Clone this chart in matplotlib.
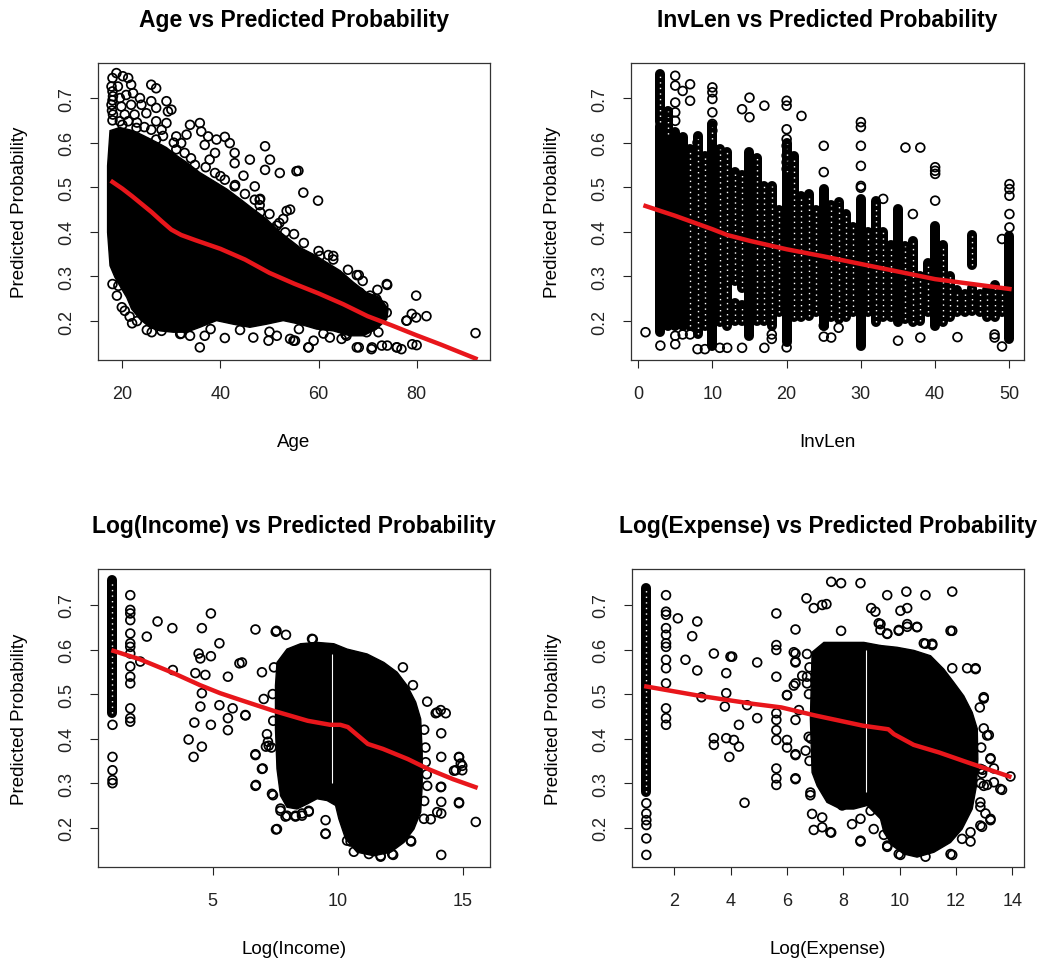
import matplotlib
matplotlib.use("Agg")
import matplotlib.pyplot as plt

plt.rcParams["font.family"] = ["Liberation Sans", "DejaVu Sans"]

# ---------------- Age panel ----------------
age_line_x = [18, 20, 22, 24, 26, 28, 30, 32, 35, 40, 45, 50, 55, 60, 65, 70, 75, 80, 85, 92]
age_line_y = [0.512, 0.497, 0.480, 0.462, 0.444, 0.424, 0.405, 0.393, 0.381, 0.362, 0.338, 0.308,
              0.284, 0.262, 0.238, 0.211, 0.190, 0.168, 0.147, 0.116]
# outline of the saturated point cloud
age_blob_x = [17.5, 19.5, 22.2, 24.3, 27.0, 29.0, 31.1, 33.1, 35.8, 38.5, 41.3, 44.0, 46.7, 49.4,
              51.5, 53.5, 56.2, 58.9, 61.6, 64.4, 67.1, 69.8, 72.5, 74.2, 73.9, 71.8, 69.1, 66.4,
              63.0, 59.6, 56.2, 52.8, 49.4, 46.0, 42.6, 39.2, 35.8, 33.1, 30.4, 27.7, 25.6, 23.6,
              21.9, 20.9, 19.5, 18.5, 17.5, 17.0, 17.0]
age_blob_y = [0.627, 0.634, 0.627, 0.616, 0.601, 0.589, 0.571, 0.556, 0.533, 0.515, 0.496, 0.474,
              0.451, 0.429, 0.406, 0.388, 0.365, 0.350, 0.332, 0.313, 0.287, 0.264, 0.253, 0.227,
              0.204, 0.182, 0.167, 0.167, 0.178, 0.182, 0.193, 0.201, 0.193, 0.186, 0.193, 0.201,
              0.186, 0.175, 0.175, 0.178, 0.186, 0.204, 0.227, 0.253, 0.279, 0.298, 0.324, 0.399,
              0.548]
age_pts_x = [18.8, 20.1, 21.2, 19.1, 17.8, 21.8, 25.9, 26.9, 18.1, 19.5, 20.8, 22.2, 23.6, 25.9,
             29.0, 17.8, 19.8, 21.8, 23.9, 18.1, 20.5, 22.5, 24.9, 26.9, 29.3, 30.0, 19.5, 21.2,
             22.9, 26.9, 29.0, 28.0, 25.9, 33.8, 35.8, 36.1, 31.0, 33.1, 37.5, 39.2, 40.9, 41.9,
             36.8, 38.9, 42.9, 37.8, 42.9, 46.0, 49.1, 50.1, 49.1, 52.1, 55.5, 26.9, 25.2, 32.0,
             32.7, 34.8, 38.9, 40.9, 42.9, 47.0, 47.0, 48.0, 54.2, 18.0, 18.0, 18.0, 17.9, 18.0,
             20.0, 23.0, 24.5, 28.3, 30.5,
             55.9, 56.9, 59.9, 48.1, 48.1, 46.7, 44.7, 53.5, 52.8, 51.5, 50.8, 49.4, 53.2,
             31.0, 34.0, 37.0, 40.0, 43.0, 45.0, 48.0, 50.0, 52.0, 55.0, 57.0, 60.0, 63.0, 66.0,
             69.0, 72.0,
             62.0, 68.2, 74.0, 79.9, 78.0, 79.9, 82.0, 92.0, 68.2, 70.9, 74.0, 76.0, 79.1, 80.0,
             58.0, 55.2, 59.0, 60.3, 63.0, 67.8, 73.9, 68.4, 70.5, 71.8, 73.2, 73.9, 67.8, 69.1,
             71.2, 72.2, 69.8, 67.8, 70.8, 72.9, 75.9, 76.9, 77.9, 79.0,
             26.0, 35.8, 36.8, 40.9, 33.8, 31.8, 46.7, 49.8, 51.5, 54.2, 54.9, 57.9, 62.3,
             64.7, 65.7, 22.0, 25.0, 28.0, 32.0, 38.0, 44.0, 50.0, 56.0, 61.0, 65.5,
             18.0, 19.2, 18.9, 19.9, 20.5, 21.5, 23.0]
age_pts_y = [0.756, 0.749, 0.745, 0.726, 0.726, 0.730, 0.730, 0.722, 0.704, 0.700, 0.707, 0.711,
             0.700, 0.693, 0.693, 0.685, 0.681, 0.685, 0.685, 0.663, 0.663, 0.663, 0.666, 0.678,
             0.670, 0.674, 0.648, 0.648, 0.633, 0.648, 0.644, 0.629, 0.629, 0.640, 0.644, 0.625,
             0.614, 0.618, 0.614, 0.607, 0.613, 0.599, 0.595, 0.577, 0.577, 0.562, 0.554, 0.562,
             0.592, 0.562, 0.539, 0.532, 0.536, 0.607, 0.599, 0.599, 0.577, 0.550, 0.532, 0.517,
             0.502, 0.502, 0.472, 0.472, 0.450, 0.745, 0.715, 0.695, 0.672, 0.650,
             0.640, 0.645, 0.635, 0.615, 0.600,
             0.537, 0.488, 0.470, 0.474, 0.444, 0.436, 0.526, 0.447, 0.429, 0.414, 0.406, 0.399,
             0.399,
             0.585, 0.565, 0.545, 0.525, 0.505, 0.485, 0.460, 0.440, 0.420, 0.395, 0.375, 0.357,
             0.338, 0.315, 0.290, 0.270,
             0.348, 0.303, 0.281, 0.257, 0.201, 0.208, 0.211, 0.173, 0.141, 0.141, 0.145, 0.141,
             0.148, 0.146, 0.141, 0.156, 0.156, 0.346, 0.346, 0.303, 0.283, 0.264, 0.257, 0.249,
             0.234, 0.219, 0.219, 0.208, 0.197, 0.175, 0.175, 0.141, 0.137, 0.145, 0.141, 0.137,
             0.201, 0.216,
             0.175, 0.141, 0.167, 0.162, 0.167, 0.171, 0.163, 0.156, 0.167, 0.160, 0.156, 0.141,
             0.163, 0.160, 0.167, 0.195, 0.180, 0.178, 0.172, 0.182, 0.180, 0.176, 0.182, 0.172,
             0.170,
             0.283, 0.279, 0.257, 0.231, 0.223, 0.210, 0.200]

# ---------------- InvLen panel ----------------
inv_line_x = [1, 3, 5, 8, 10, 12, 15, 20, 25, 30, 35, 40, 45, 50]
inv_line_y = [0.458, 0.447, 0.436, 0.418, 0.406, 0.393, 0.380, 0.361, 0.345, 0.328, 0.311, 0.294,
              0.283, 0.272]
inv_dense_x = [3, 4, 5, 6, 10, 15, 20, 25, 30, 35, 40, 50]
inv_dense_lo = [0.175, 0.19, 0.19, 0.19, 0.145, 0.167, 0.153, 0.19, 0.145, 0.198, 0.19, 0.16]
inv_dense_hi = [0.638, 0.62, 0.623, 0.612, 0.608, 0.579, 0.534, 0.496, 0.474, 0.451, 0.414, 0.391]
inv_semi_x = [3, 4, 7, 8, 9, 10, 11, 12, 13, 13, 14, 14, 16, 17, 18, 19, 20, 21, 22, 23, 24, 26,
              27, 28, 29, 31, 32, 33, 34, 36, 37, 38, 39, 41, 42, 43, 44, 45, 45, 46, 47, 48, 49]
inv_semi_lo = [0.646, 0.62, 0.19, 0.17, 0.19, 0.608, 0.198, 0.19, 0.29, 0.20, 0.275, 0.20, 0.20,
               0.20, 0.19, 0.22, 0.534, 0.21, 0.21, 0.212, 0.22, 0.21, 0.205, 0.21, 0.22, 0.22,
               0.198, 0.21, 0.21, 0.204, 0.198, 0.20, 0.22, 0.198, 0.21, 0.22, 0.22, 0.222, 0.325,
               0.22, 0.21, 0.21, 0.22]
inv_semi_hi = [0.755, 0.67, 0.586, 0.614, 0.57, 0.64, 0.586, 0.58, 0.534, 0.24, 0.528, 0.235,
               0.565, 0.503, 0.503, 0.45, 0.60, 0.571, 0.48, 0.485, 0.45, 0.46, 0.466, 0.44, 0.41,
               0.40, 0.47, 0.40, 0.37, 0.369, 0.38, 0.30, 0.33, 0.37, 0.30, 0.27, 0.26, 0.274,
               0.392, 0.26, 0.27, 0.28, 0.26]
inv_pts_x = [1, 3, 4, 4, 5, 5, 5, 5, 5, 5, 5, 6, 6, 7, 7, 7, 8, 8, 9, 10, 10, 10, 10, 10, 10,
             11, 12, 14, 14, 15, 15, 17, 17, 18, 18, 20, 20, 20, 20, 20, 20, 20, 20, 20, 22,
             25, 25, 25, 25, 26, 27, 30, 30, 30, 30, 30, 30, 33, 35, 36, 37, 38, 38, 40, 40, 40,
             40, 43, 48, 48, 49, 49, 50, 50, 50, 50, 50]
inv_pts_y = [0.175, 0.145, 0.669, 0.650, 0.750, 0.728, 0.690, 0.668, 0.649, 0.167, 0.148, 0.716,
             0.170, 0.731, 0.694, 0.170, 0.137, 0.600, 0.137, 0.724, 0.713, 0.698, 0.668, 0.642,
             0.627, 0.140, 0.140, 0.675, 0.140, 0.701, 0.657, 0.683, 0.140, 0.170, 0.160, 0.694,
             0.683, 0.630, 0.608, 0.593, 0.571, 0.556, 0.541, 0.141, 0.660, 0.593, 0.534, 0.190,
             0.165, 0.163, 0.185, 0.646, 0.635, 0.593, 0.548, 0.503, 0.499, 0.474, 0.156, 0.589,
             0.440, 0.589, 0.163, 0.545, 0.537, 0.530, 0.470, 0.164, 0.170, 0.163, 0.384, 0.143,
             0.507, 0.496, 0.481, 0.440, 0.410]

# ---------------- Log(Income) panel ----------------
inc_line_x = [1.04, 2.1, 3.4, 4.5, 5.3, 6.1, 7.4, 8.8, 9.7, 10.1, 10.4, 11.2, 11.8, 12.8, 13.6,
              14.6, 15.5]
inc_line_y = [0.597, 0.578, 0.548, 0.520, 0.502, 0.487, 0.463, 0.440, 0.431, 0.431, 0.426, 0.388,
              0.377, 0.354, 0.332, 0.309, 0.291]
inc_blob_x = [7.57, 7.97, 8.51, 9.17, 9.84, 10.37, 11.17, 11.84, 12.37, 12.77, 13.11, 13.31, 13.37,
              13.37, 13.31, 13.04, 12.64, 12.11, 11.44, 10.77, 10.31, 10.04, 9.91, 9.57, 9.17,
              8.77, 8.37, 7.97, 7.71, 7.57, 7.51, 7.51]
inc_blob_y = [0.571, 0.601, 0.613, 0.616, 0.613, 0.601, 0.590, 0.571, 0.549, 0.519, 0.482, 0.444,
              0.369, 0.294, 0.235, 0.197, 0.167, 0.145, 0.137, 0.145, 0.175, 0.220, 0.250, 0.261,
              0.265, 0.253, 0.242, 0.246, 0.272, 0.332, 0.422, 0.519]
inc_chain_x = [1.0]
inc_chain_lo = [0.457]
inc_chain_hi = [0.756]
inc_gap_x = [9.78]
inc_gap_lo = [0.30]
inc_gap_hi = [0.59]
inc_pts_x = [1.0, 1.0, 1.0, 1.0, 1.0,
             1.71, 1.71, 1.71, 1.71, 1.71, 1.71, 1.71, 1.71, 1.71, 1.71, 1.71, 1.71, 1.71, 1.71,
             2.11, 2.37, 2.80, 3.39, 3.41, 4.04, 4.24, 4.27, 4.31, 4.44, 4.51, 4.51, 4.57, 4.57,
             4.57, 4.71, 4.93, 4.93, 4.93, 5.27, 5.27, 5.61, 5.61, 5.61, 5.80, 6.07, 6.31, 6.71,
             6.71, 6.73, 7.00, 7.13, 7.21, 7.41, 7.52, 7.53, 7.71, 7.91, 7.93, 8.31, 8.57, 8.84,
             9.51, 9.51, 9.00,
             13.57, 13.91, 14.11, 14.31, 14.13, 14.13, 14.13, 14.13, 14.13, 14.13, 14.84, 14.91,
             14.97, 14.71, 14.84, 15.51, 12.93, 12.21, 11.71, 10.64, 10.51,
             6.17, 6.31, 6.71, 6.97, 6.71, 7.37, 7.57, 7.71, 7.97, 8.31, 8.57, 8.84, 9.51, 6.97,
             7.04, 7.17, 7.24, 13.97, 14.84, 14.97, 14.64, 14.84, 14.11, 13.97, 13.71, 13.51,
             13.57, 8.97, 11.71, 12.17, 11.24, 10.37, 12.91, 13.44, 7.55,
             7.45, 7.40, 7.42, 7.35, 13.45, 13.50, 13.45, 13.55, 12.60, 13.00]
inc_pts_y = [0.431, 0.359, 0.329, 0.307, 0.300,
             0.722, 0.689, 0.681, 0.666, 0.636, 0.614, 0.606, 0.591, 0.562, 0.539, 0.524, 0.468,
             0.446, 0.438,
             0.573, 0.629, 0.663, 0.648, 0.554, 0.398, 0.359, 0.436, 0.547, 0.591, 0.580, 0.472,
             0.648, 0.502, 0.382, 0.543, 0.681, 0.585, 0.431, 0.614, 0.475, 0.539, 0.446, 0.419,
             0.468, 0.569, 0.453, 0.645, 0.363, 0.296, 0.333, 0.382, 0.393, 0.273, 0.640, 0.196,
             0.243, 0.225, 0.633, 0.225, 0.232, 0.236, 0.217, 0.187, 0.623,
             0.483, 0.457, 0.464, 0.457, 0.412, 0.359, 0.292, 0.258, 0.232, 0.139, 0.359, 0.344,
             0.329, 0.329, 0.255, 0.213, 0.169, 0.139, 0.135, 0.146, 0.169,
             0.571, 0.452, 0.365, 0.332, 0.294, 0.276, 0.197, 0.238, 0.227, 0.227, 0.227, 0.238,
             0.186, 0.549, 0.489, 0.410, 0.384, 0.459, 0.358, 0.339, 0.328, 0.257, 0.291, 0.235,
             0.219, 0.347, 0.294, 0.624, 0.137, 0.141, 0.141, 0.171, 0.171, 0.220, 0.642,
             0.560, 0.500, 0.440, 0.380, 0.420, 0.380, 0.260, 0.320, 0.560, 0.520]

# ---------------- Log(Expense) panel ----------------
exp_line_x = [1.0, 2.9, 4.8, 5.8, 7.0, 8.7, 9.6, 9.8, 10.5, 11.4, 12.4, 13.9]
exp_line_y = [0.517, 0.496, 0.478, 0.470, 0.452, 0.429, 0.421, 0.410, 0.386, 0.369, 0.347, 0.315]
exp_blob_x = [9.32, 9.91, 10.51, 11.10, 11.57, 11.93, 12.28, 12.58, 12.76, 12.78, 12.73, 12.58,
              12.22, 11.81, 11.22, 10.62, 10.15, 9.74, 9.44, 9.32]
exp_blob_y = [0.609, 0.605, 0.598, 0.586, 0.556, 0.526, 0.496, 0.459, 0.422, 0.354, 0.294, 0.242,
              0.197, 0.167, 0.145, 0.134, 0.141, 0.160, 0.190, 0.220]
exp_left_x = [6.89, 7.31, 8.14, 8.73, 9.32, 9.32, 8.85, 8.37, 7.90, 7.42, 7.07, 6.89, 6.83]
exp_left_y = [0.594, 0.616, 0.616, 0.616, 0.609, 0.220, 0.250, 0.242, 0.242, 0.257, 0.294, 0.324,
              0.444]
exp_chain_x = [1.0]
exp_chain_lo = [0.28]
exp_chain_hi = [0.737]
exp_gap_x = [8.82]
exp_gap_lo = [0.28]
exp_gap_hi = [0.60]
exp_pts_x = [1.0, 1.0, 1.0, 1.0, 1.0, 1.0,
             1.70, 1.70, 1.70, 1.70, 1.70, 1.70, 1.70, 1.70, 1.70, 1.70, 1.70, 1.70, 1.70,
             2.12, 2.39, 2.63, 2.81, 2.81, 2.96, 3.40, 3.40, 3.40, 3.84, 3.84, 3.79, 3.84, 3.99,
             4.05, 3.95, 4.11, 4.29, 4.29, 4.49, 4.58, 4.94, 4.94, 5.62, 5.62, 5.62, 5.62, 5.62,
             5.62, 5.62, 5.62, 5.62, 5.62, 5.62, 6.00, 6.00, 6.30, 6.30, 6.30, 6.30, 6.30, 6.30,
             6.30, 6.42, 6.69, 6.95, 7.25, 7.40, 6.71, 6.71, 6.77, 6.83, 6.95, 7.57, 7.57, 7.92,
             7.92, 8.61, 8.61, 8.99, 9.14, 9.26, 9.32, 9.56, 9.44, 9.56, 9.56, 10.03, 10.27, 9.97,
             10.24, 10.27, 10.03, 10.62, 10.92, 10.86, 11.16, 11.87, 11.87, 11.87, 12.40, 12.70,
             12.99, 12.99, 13.17, 13.23, 13.35, 12.93, 13.11, 13.64, 13.94, 13.23, 12.93, 12.52,
             11.87, 10.92, 12.87, 13.05,
             9.32, 9.56, 9.97, 10.27, 10.62, 11.81, 10.92, 11.16, 12.70, 12.99, 13.11, 13.23,
             12.87, 12.99, 13.35, 13.58, 12.87, 13.23, 12.87, 12.52, 12.22, 11.81, 9.97, 9.56,
             8.61, 7.25, 7.54, 7.25, 7.96, 8.31, 8.61, 8.97, 9.08, 6.30, 6.00, 6.30, 6.66, 6.00,
             6.24, 6.30, 6.24, 6.54, 6.71, 6.83, 6.89,
             6.80, 6.78, 6.85, 6.80, 12.85, 12.90, 12.88, 12.95]
exp_pts_y = [0.255, 0.232, 0.217, 0.206, 0.176, 0.139,
             0.722, 0.685, 0.678, 0.648, 0.633, 0.614, 0.606, 0.577, 0.558, 0.524, 0.468, 0.446,
             0.431,
             0.670, 0.577, 0.630, 0.663, 0.553, 0.493, 0.591, 0.401, 0.386, 0.547, 0.502, 0.472,
             0.401, 0.584, 0.584, 0.359, 0.397, 0.382, 0.431, 0.256, 0.475, 0.571, 0.446, 0.681,
             0.610, 0.599, 0.539, 0.457, 0.442, 0.419, 0.397, 0.333, 0.311, 0.296, 0.397, 0.498,
             0.645, 0.591, 0.573, 0.524, 0.442, 0.363, 0.311, 0.464, 0.715, 0.693, 0.700, 0.702,
             0.524, 0.539, 0.404, 0.273, 0.195, 0.189, 0.752, 0.749, 0.642, 0.749, 0.169, 0.693,
             0.685, 0.659, 0.644, 0.636, 0.184, 0.157, 0.722, 0.687, 0.693, 0.644, 0.730, 0.651,
             0.139, 0.651, 0.722, 0.614, 0.610, 0.730, 0.642, 0.558, 0.558, 0.558, 0.490, 0.423,
             0.408, 0.356, 0.333, 0.322, 0.296, 0.285, 0.315, 0.217, 0.202, 0.169, 0.139, 0.135,
             0.247, 0.232,
             0.657, 0.635, 0.642, 0.657, 0.650, 0.642, 0.613, 0.613, 0.556, 0.493, 0.407, 0.354,
             0.332, 0.294, 0.302, 0.287, 0.257, 0.220, 0.205, 0.190, 0.175, 0.141, 0.141, 0.160,
             0.171, 0.201, 0.190, 0.223, 0.250, 0.208, 0.220, 0.238, 0.197, 0.309, 0.380, 0.365,
             0.373, 0.497, 0.519, 0.571, 0.594, 0.541, 0.590, 0.279, 0.231,
             0.560, 0.500, 0.400, 0.350, 0.470, 0.380, 0.300, 0.330]

LINE_RED = "#e8161b"
COL_W = 7.2  # width of a stacked column of circles, in points
PT_SIZE = 40
PT_LW = 1.25


def draw_columns(ax, xs, lo, hi, hollow=False):
    """Stacks of overlapping circles drawn as round-capped bars."""
    ax.vlines(xs, lo, hi, colors="black", linewidth=COL_W, capstyle="round", zorder=3)
    if hollow:
        ax.vlines(xs, lo, hi, colors="white", linewidth=1.0,
                  linestyles=[(0, (1.0, 3.0))], zorder=3.1)


def draw_gaps(ax, xs, lo, hi):
    ax.vlines(xs, lo, hi, colors="white", linewidth=0.8, zorder=2.5)


def setup_axes(ax, title, xlabel, xlim, ylim, xticks):
    ax.set_xlim(*xlim)
    ax.set_ylim(*ylim)
    ax.set_xticks(xticks)
    ax.set_xticklabels([str(t) for t in xticks])
    ax.set_yticks([0.2, 0.3, 0.4, 0.5, 0.6, 0.7])
    ax.set_yticklabels(["0.2", "0.3", "0.4", "0.5", "0.6", "0.7"], rotation=90, va="center")
    ax.tick_params(axis="both", direction="out", length=5.5, width=0.8, labelsize=13,
                   colors="#222222")
    ax.tick_params(axis="x", pad=12.5)
    ax.tick_params(axis="y", pad=10.5)
    for sp in ax.spines.values():
        sp.set_linewidth(0.9)
        sp.set_color("#333333")
    ax.set_title(title, fontsize=16.5, fontweight="bold", pad=26.5)
    ax.set_xlabel(xlabel, fontsize=13.5, va="center")
    ax.xaxis.set_label_coords(0.5, -0.275)
    ax.set_ylabel("Predicted Probability", fontsize=13.5, va="center")
    ax.yaxis.set_label_coords(-0.199, 0.5)


def draw_points(ax, xs, ys):
    ax.scatter(xs, ys, s=PT_SIZE, facecolors="none", edgecolors="black", linewidths=PT_LW,
               zorder=4)


fig = plt.figure(figsize=(10.4, 9.62), dpi=100)
ax1 = fig.add_axes([0.0942, 0.6247, 0.3770, 0.3087])
ax2 = fig.add_axes([0.6067, 0.6247, 0.3779, 0.3087])
ax3 = fig.add_axes([0.0942, 0.0977, 0.3770, 0.3098])
ax4 = fig.add_axes([0.6074, 0.0977, 0.3772, 0.3098])

# Age
ax1.fill(age_blob_x, age_blob_y, facecolor="black", edgecolor="black", linewidth=1.0, zorder=2)
draw_points(ax1, age_pts_x, age_pts_y)
ax1.plot(age_line_x, age_line_y, color=LINE_RED, linewidth=3.2, zorder=5)
setup_axes(ax1, "Age vs Predicted Probability", "Age", (15.04, 94.96), (0.1126, 0.7785),
           [20, 40, 60, 80])

# InvLen
draw_columns(ax2, inv_semi_x, inv_semi_lo, inv_semi_hi, hollow=True)
draw_columns(ax2, inv_dense_x, inv_dense_lo, inv_dense_hi)
draw_points(ax2, inv_pts_x, inv_pts_y)
ax2.plot(inv_line_x, inv_line_y, color=LINE_RED, linewidth=3.2, zorder=5)
setup_axes(ax2, "InvLen vs Predicted Probability", "InvLen", (-0.96, 51.96), (0.1126, 0.7785),
           [0, 10, 20, 30, 40, 50])

# Log(Income)
ax3.fill(inc_blob_x, inc_blob_y, facecolor="black", edgecolor="black", linewidth=1.0, zorder=2)
draw_gaps(ax3, inc_gap_x, inc_gap_lo, inc_gap_hi)
draw_columns(ax3, inc_chain_x, inc_chain_lo, inc_chain_hi, hollow=True)
draw_points(ax3, inc_pts_x, inc_pts_y)
ax3.plot(inc_line_x, inc_line_y, color=LINE_RED, linewidth=3.2, zorder=5)
setup_axes(ax3, "Log(Income) vs Predicted Probability", "Log(Income)", (0.42, 16.08),
           (0.1118, 0.7808), [5, 10, 15])

# Log(Expense)
ax4.fill(exp_blob_x, exp_blob_y, facecolor="black", edgecolor="black", linewidth=1.0, zorder=2)
ax4.fill(exp_left_x, exp_left_y, facecolor="black", edgecolor="black", linewidth=1.0, zorder=2)
draw_gaps(ax4, exp_gap_x, exp_gap_lo, exp_gap_hi)
draw_columns(ax4, exp_chain_x, exp_chain_lo, exp_chain_hi, hollow=True)
draw_points(ax4, exp_pts_x, exp_pts_y)
ax4.plot(exp_line_x, exp_line_y, color=LINE_RED, linewidth=3.2, zorder=5)
setup_axes(ax4, "Log(Expense) vs Predicted Probability", "Log(Expense)", (0.48, 14.42),
           (0.1118, 0.7808), [2, 4, 6, 8, 10, 12, 14])

fig.savefig("out.png", dpi=100)
